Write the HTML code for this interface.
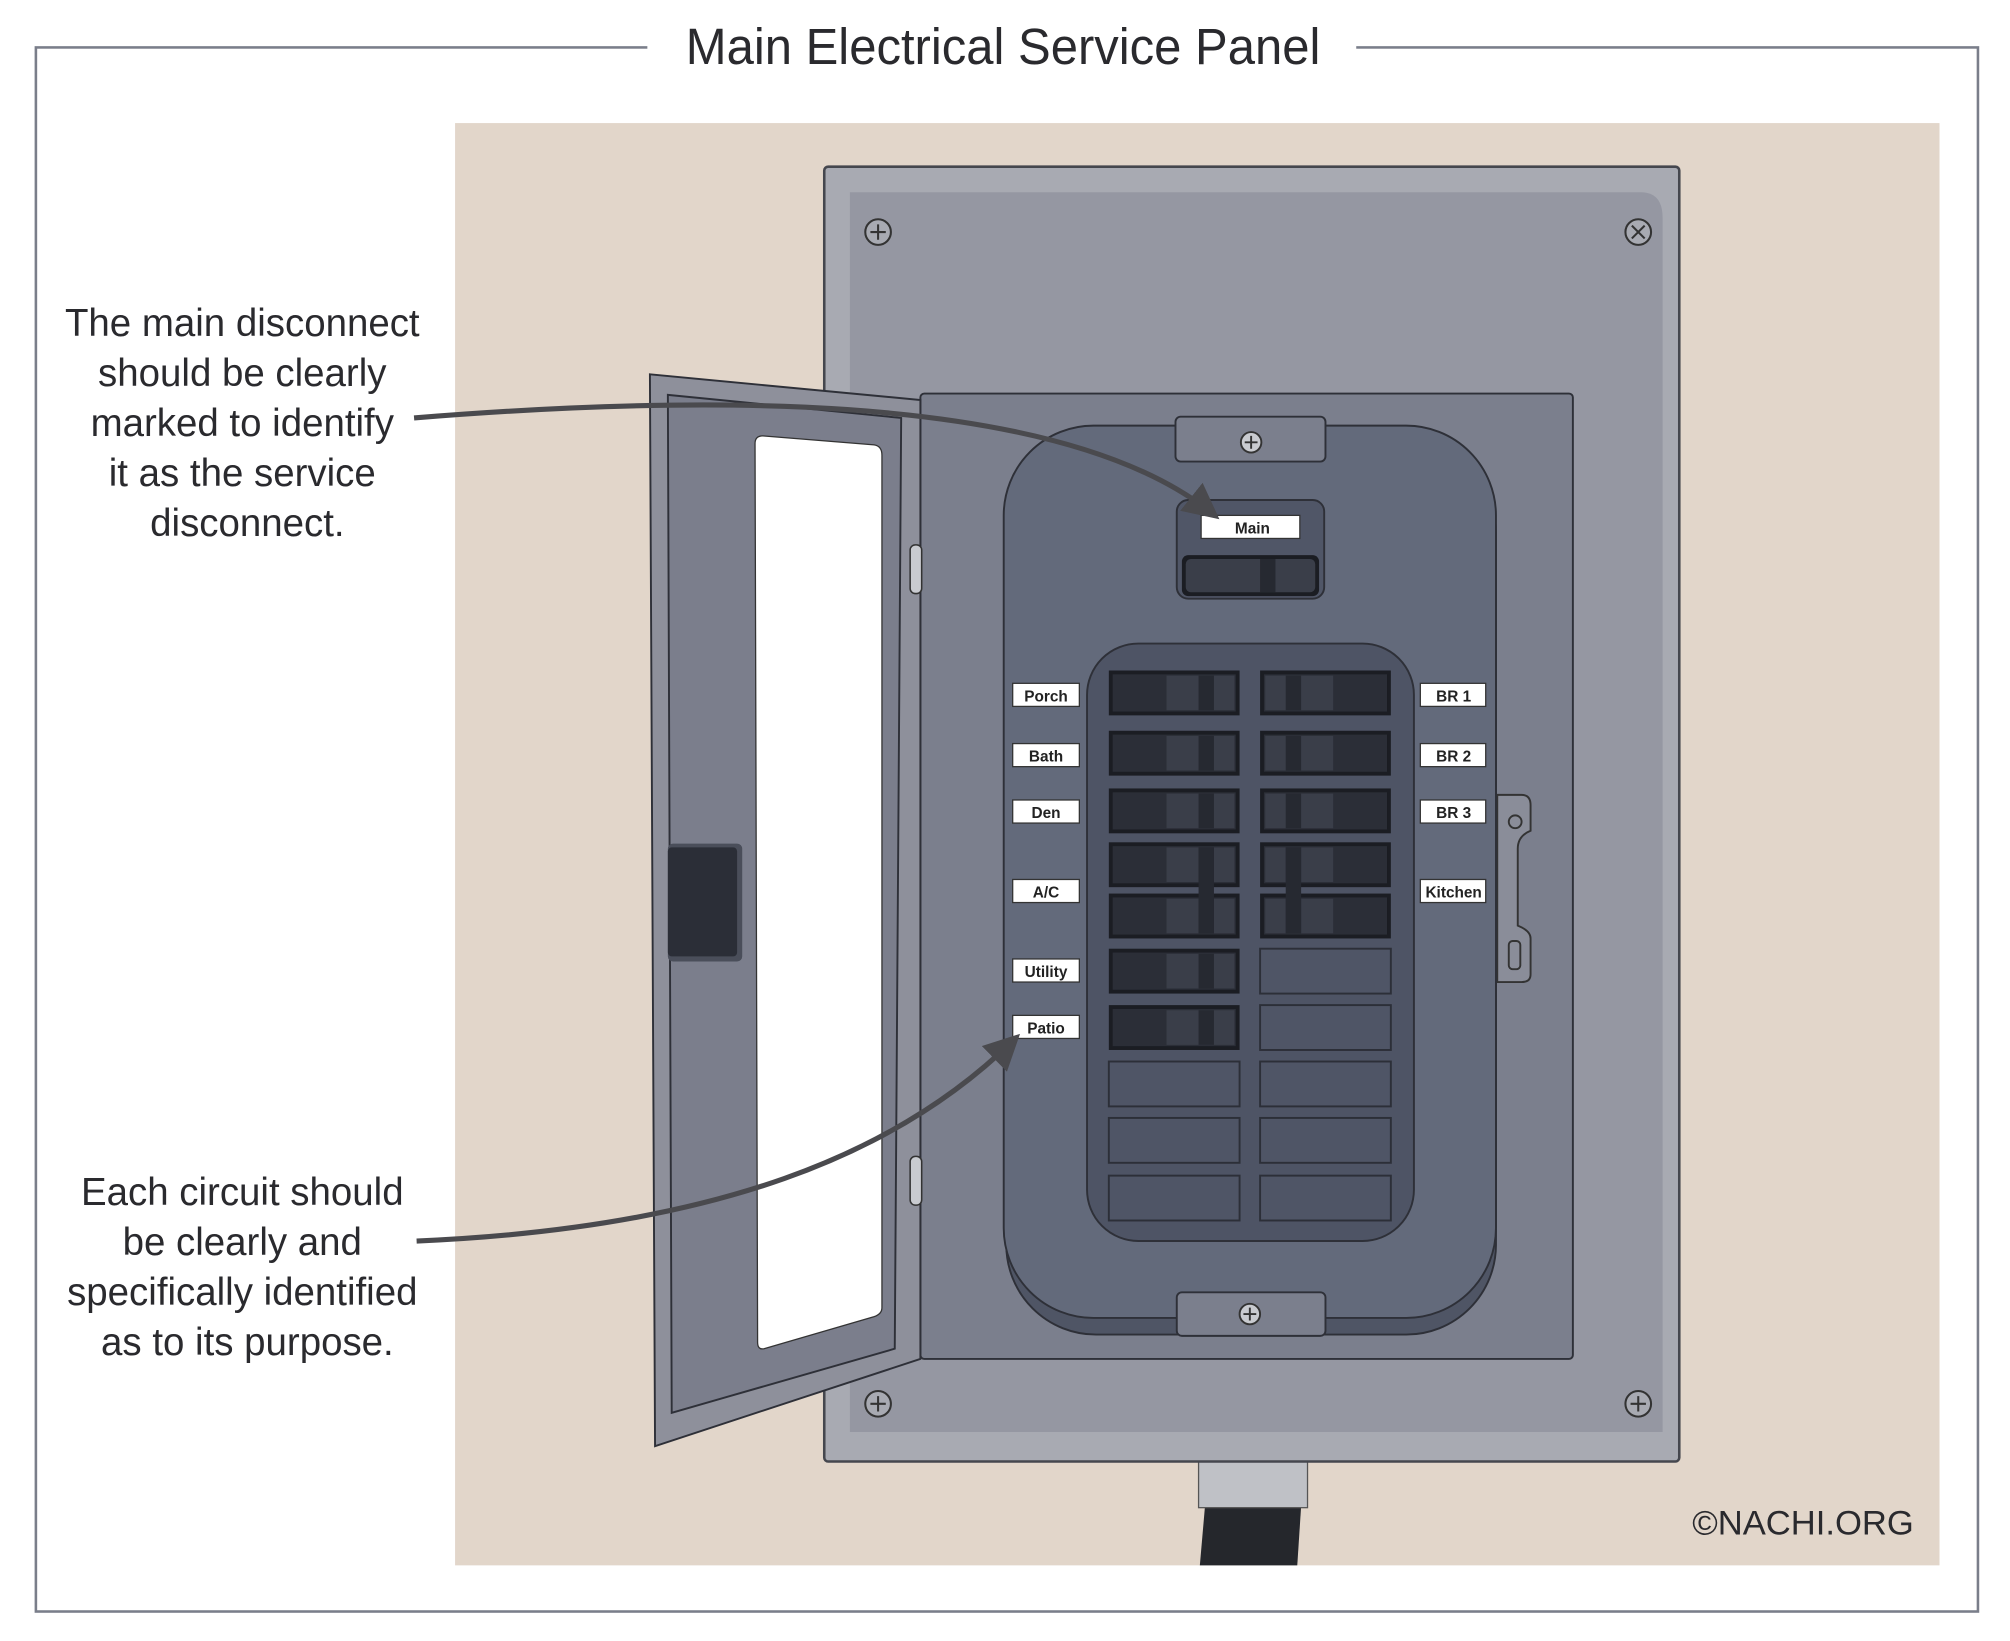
<!DOCTYPE html>
<html><head><meta charset="utf-8"><style>html,body{margin:0;padding:0;background:#fff}svg{display:block}</style></head>
<body>
<svg width="2010" height="1641" viewBox="0 0 1568 1280" preserveAspectRatio="none" xmlns="http://www.w3.org/2000/svg" font-family="Liberation Sans, sans-serif">
<defs>
<g id="bl"><rect x="0" y="0" width="102" height="35" fill="#1b1d23"/><rect x="3" y="3" width="96" height="29" fill="#2b2e37"/><rect x="45" y="4" width="53" height="27" fill="#3a3e49"/><rect x="70" y="4" width="12" height="27" fill="#262931"/></g>
<g id="br"><rect x="0" y="0" width="102" height="35" fill="#1b1d23"/><rect x="3" y="3" width="96" height="29" fill="#2b2e37"/><rect x="4" y="4" width="53" height="27" fill="#3a3e49"/><rect x="20" y="4" width="12" height="27" fill="#262931"/></g>
<g id="be"><rect x="0" y="0" width="102" height="35" fill="#4f5566" stroke="#2c2f38" stroke-width="1.5"/></g>
<marker id="ah" markerWidth="7" markerHeight="7" refX="5" refY="3.5" orient="auto" markerUnits="strokeWidth"><path d="M0,0 L7,3.5 L0,7 z" fill="#4a4a4e"/></marker>
</defs>
<rect x="28" y="37" width="1515" height="1220" fill="none" stroke="#7a7e8a" stroke-width="2"/>
<rect x="505" y="20" width="553" height="35" fill="#fff"/>
<text x="535" y="50" font-size="40" textLength="495" lengthAdjust="spacingAndGlyphs" fill="#2a2a2e">Main Electrical Service Panel</text>
<rect x="355" y="96" width="1158" height="1125" fill="#e2d6ca"/>
<path d="M940,1175 L1015,1175 L1012,1221 L936,1221 z" fill="#25272c"/>
<rect x="935" y="1138" width="85" height="38" fill="#bfc1c6" stroke="#555" stroke-width="1"/>
<rect x="643" y="130" width="667" height="1010" rx="3" fill="#a8aab2" stroke="#45474e" stroke-width="2"/>
<path d="M663,150 L1280,150 Q1297,150 1297,170 L1297,1117 L663,1117 z" fill="#9597a2"/>
<g stroke="#333" stroke-width="1.6" fill="#a8aab2">
<circle cx="685" cy="181" r="10"/><circle cx="1278" cy="181" r="10"/><circle cx="685" cy="1095" r="10"/><circle cx="1278" cy="1095" r="10"/>
</g>
<g stroke="#333" stroke-width="1.6">
<path d="M679,181h12M685,175v12M679,1095h12M685,1089v12M1272,1095h12M1278,1089v12M1273,176l10,10M1283,176l-10,10"/>
</g>
<rect x="718" y="307" width="509" height="753" rx="3" fill="#7b7f8d" stroke="#2e3038" stroke-width="1.5"/>
<path d="M1168,620 L1187,620 Q1194,620 1194,628 L1194,648 Q1184,652 1184,662 L1184,722 Q1194,726 1194,732 L1194,760 Q1194,766 1187,766 L1168,766 z" fill="#8a8d99" stroke="#333" stroke-width="1.5"/>
<circle cx="1182" cy="641" r="5" fill="none" stroke="#333" stroke-width="1.5"/>
<rect x="1177" y="734" width="9" height="22" rx="3" fill="none" stroke="#333" stroke-width="1.5"/>
<rect x="785" y="345" width="382" height="696" rx="70" fill="#4f5565" stroke="#2e3038" stroke-width="1.5"/>
<rect x="783" y="332" width="384" height="696" rx="70" fill="#636a7b" stroke="#2e3038" stroke-width="1.5"/>
<rect x="917" y="325" width="117" height="35" rx="4" fill="#7b7f8d" stroke="#2e3038" stroke-width="1.5"/>
<circle cx="976" cy="345" r="8" fill="#c9cbd0" stroke="#333" stroke-width="1.5"/><path d="M971,345h10M976,340v10" stroke="#333" stroke-width="1.5"/>
<rect x="918" y="1008" width="116" height="34" rx="4" fill="#7b7f8d" stroke="#2e3038" stroke-width="1.5"/>
<circle cx="975" cy="1025" r="8" fill="#c9cbd0" stroke="#333" stroke-width="1.5"/><path d="M970,1025h10M975,1020v10" stroke="#333" stroke-width="1.5"/>
<rect x="918" y="390" width="115" height="77" rx="9" fill="#505667" stroke="#2e3038" stroke-width="1.5"/>
<rect x="937" y="402" width="77" height="18" fill="#fff" stroke="#333"/>
<text x="977" y="416" font-size="12" font-weight="bold" text-anchor="middle" fill="#222">Main</text>
<rect x="922" y="433" width="107" height="32" rx="5" fill="#1b1d23"/><rect x="925" y="436" width="101" height="26" rx="4" fill="#3a3e49"/><rect x="983" y="436" width="12" height="26" fill="#262931"/>
<rect x="848" y="502" width="255" height="466" rx="40" fill="#4e5465" stroke="#2e3038" stroke-width="1.5"/>
<use href="#bl" x="865" y="523"/><use href="#bl" x="865" y="570"/><use href="#bl" x="865" y="615"/><use href="#bl" x="865" y="657"/><use href="#bl" x="865" y="697"/><use href="#bl" x="865" y="740"/><use href="#bl" x="865" y="784"/>
<use href="#be" x="865" y="828"/><use href="#be" x="865" y="872"/><use href="#be" x="865" y="917"/>
<use href="#br" x="983" y="523"/><use href="#br" x="983" y="570"/><use href="#br" x="983" y="615"/><use href="#br" x="983" y="657"/><use href="#br" x="983" y="697"/>
<use href="#be" x="983" y="740"/><use href="#be" x="983" y="784"/><use href="#be" x="983" y="828"/><use href="#be" x="983" y="872"/><use href="#be" x="983" y="917"/>
<rect x="935" y="661" width="12" height="67" fill="#262931"/><rect x="1003" y="661" width="12" height="67" fill="#262931"/>
<g font-size="12" font-weight="bold" text-anchor="middle" fill="#222">
<rect x="790" y="533" width="52" height="18" fill="#fff" stroke="#333"/><text x="816" y="547">Porch</text>
<rect x="790" y="580" width="52" height="18" fill="#fff" stroke="#333"/><text x="816" y="594">Bath</text>
<rect x="790" y="624" width="52" height="18" fill="#fff" stroke="#333"/><text x="816" y="638">Den</text>
<rect x="790" y="686" width="52" height="18" fill="#fff" stroke="#333"/><text x="816" y="700">A/C</text>
<rect x="790" y="748" width="52" height="18" fill="#fff" stroke="#333"/><text x="816" y="762">Utility</text>
<rect x="790" y="792" width="52" height="18" fill="#fff" stroke="#333"/><text x="816" y="806">Patio</text>
<rect x="1108" y="533" width="51" height="18" fill="#fff" stroke="#333"/><text x="1134" y="547">BR 1</text>
<rect x="1108" y="580" width="51" height="18" fill="#fff" stroke="#333"/><text x="1134" y="594">BR 2</text>
<rect x="1108" y="624" width="51" height="18" fill="#fff" stroke="#333"/><text x="1134" y="638">BR 3</text>
<rect x="1108" y="686" width="51" height="18" fill="#fff" stroke="#333"/><text x="1134" y="700">Kitchen</text>
</g>
<path d="M507,292 L718,312 L718,1060 L511,1128 z" fill="#8e909b" stroke="#2e3038" stroke-width="1.5"/>
<path d="M521,308 L703,326 L698,1052 L524,1102 z" fill="#7b7e8c" stroke="#2e3038" stroke-width="1.5"/>
<path d="M595,340 L682,347 Q688,348 688,355 L688,1020 Q688,1025 682,1027 L596,1052 Q591,1053 591,1047 L589,346 Q589,340 595,340 z" fill="#fff" stroke="#333" stroke-width="1"/>
<rect x="521" y="658" width="58" height="92" rx="4" fill="#4a4e5a"/><rect x="521" y="661" width="54" height="85" rx="3" fill="#2b2e37"/>
<rect x="710" y="425" width="9" height="38" rx="4" fill="#c9cbd0" stroke="#333" stroke-width="1.2"/>
<rect x="710" y="902" width="9" height="38" rx="4" fill="#c9cbd0" stroke="#333" stroke-width="1.2"/>
<path d="M323,326 C520,310 820,300 945,400" fill="none" stroke="#4a4a4e" stroke-width="4" marker-end="url(#ah)"/>
<path d="M325,968 C560,958 700,900 790,812" fill="none" stroke="#4a4a4e" stroke-width="4" marker-end="url(#ah)"/>
<g font-size="30" text-anchor="middle" fill="#2a2a2e">
<text x="189" y="262">The main disconnect</text>
<text x="189" y="301">should be clearly</text>
<text x="189" y="340">marked to identify</text>
<text x="189" y="379">it as the service</text>
<text x="193" y="418">disconnect.</text>
<text x="189" y="940">Each circuit should</text>
<text x="189" y="979">be clearly and</text>
<text x="189" y="1018">specifically identified</text>
<text x="193" y="1057">as to its purpose.</text>
</g>
<text x="1493" y="1197" font-size="27" text-anchor="end" fill="#2a2a2e">©NACHI.ORG</text>
</svg>
</body></html>
